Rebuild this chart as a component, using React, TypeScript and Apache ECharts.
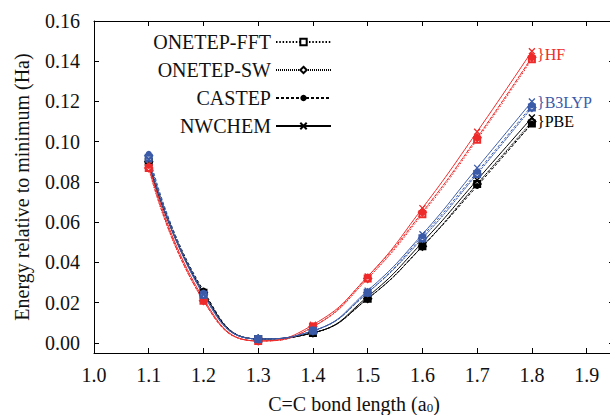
import React, { useEffect, useRef } from 'react';
import * as echarts from 'echarts';

const bondLengths = [1.1, 1.2, 1.3, 1.4, 1.5, 1.6, 1.7, 1.8];

// HF
const hfFFT = [0.087, 0.021, 0.001, 0.008, 0.032, 0.064, 0.101, 0.141];
const hfSW = [0.087, 0.021, 0.001, 0.008, 0.032, 0.065, 0.102, 0.142];
const hfCASTEP = [0.088, 0.021, 0.001, 0.008, 0.033, 0.065, 0.102, 0.142];
const hfNWCHEM = [0.089, 0.022, 0.001, 0.009, 0.033, 0.067, 0.105, 0.145];
// B3LYP
const b3FFT = [0.092, 0.024, 0.002, 0.006, 0.025, 0.052, 0.084, 0.117];
const b3SW = [0.093, 0.024, 0.002, 0.006, 0.025, 0.052, 0.084, 0.117];
const b3CASTEP = [0.094, 0.025, 0.002, 0.006, 0.025, 0.053, 0.085, 0.118];
const b3NWCHEM = [0.091, 0.024, 0.002, 0.006, 0.026, 0.054, 0.087, 0.120];
// PBE
const pbeFFT = [0.090, 0.025, 0.002, 0.005, 0.022, 0.048, 0.079, 0.109];
const pbeSW = [0.090, 0.025, 0.002, 0.005, 0.022, 0.048, 0.079, 0.110];
const pbeCASTEP = [0.091, 0.026, 0.002, 0.005, 0.022, 0.048, 0.078, 0.109];
const pbeNWCHEM = [0.089, 0.025, 0.002, 0.005, 0.023, 0.050, 0.081, 0.112];

const codes = ['ONETEP-FFT', 'ONETEP-SW', 'CASTEP', 'NWCHEM'];
const methodLabels = ['HF', 'B3LYP', 'PBE'];
const xTicks = [1.0, 1.1, 1.2, 1.3, 1.4, 1.5, 1.6, 1.7, 1.8, 1.9];
const yTicks = [0.0, 0.02, 0.04, 0.06, 0.08, 0.1, 0.12, 0.14, 0.16];

const FONT = 'Liberation Serif';
const TEXT = '#111111';
const RED = '#ee2b2b';
const BLUE = '#3b5ba8';
const BLACK = '#000000';

const codeStyles: Record<string, any> = {
  'ONETEP-FFT': { symbol: 'emptyRect', symbolSize: 6, dash: [1.5, 1.8], borderWidth: 1 },
  'ONETEP-SW': { symbol: 'emptyDiamond', symbolSize: 7, dash: [1, 1], borderWidth: 1.2 },
  CASTEP: { symbol: 'circle', symbolSize: 6, dash: [3, 2], borderWidth: 0 },
  NWCHEM: { symbol: 'path://M0,0L10,10M10,0L0,10', symbolSize: 6, dash: 'solid', borderWidth: 1.3 },
};

function makeSeries(name: string, code: string, color: string, values: number[] | null) {
  const st = codeStyles[code];
  return {
    name,
    type: 'line',
    smooth: 0.5,
    symbol: st.symbol,
    symbolSize: st.symbolSize,
    showAllSymbol: true,
    data: values ? bondLengths.map((x, i) => [x, values[i]]) : [],
    lineStyle: { color, width: 1, type: st.dash },
    itemStyle: { color, borderColor: color, borderWidth: st.borderWidth },
    emphasis: { disabled: true },
    z: 2,
  };
}

export default function App() {
  const ref = useRef<HTMLDivElement>(null);
  useEffect(() => {
    if (!ref.current) return;
    const chart = echarts.init(ref.current, null, { renderer: 'svg' });
    const groups: [string, string, number[][]][] = [
      ['PBE', BLACK, [pbeFFT, pbeSW, pbeCASTEP, pbeNWCHEM]],
      ['HF', RED, [hfFFT, hfSW, hfCASTEP, hfNWCHEM]],
      ['B3LYP', BLUE, [b3FFT, b3SW, b3CASTEP, b3NWCHEM]],
    ];
    const series: any[] = [];
    groups.forEach(([m, color, arrs]) => {
      arrs.forEach((vals, i) => series.push(makeSeries(m + ' ' + codes[i], codes[i], color, vals)));
    });
    codes.forEach((c) => series.push(makeSeries(c, c, BLACK, null)));

    const tickStyle = { show: true, inside: true, length: 5, lineStyle: { color: '#000' } };
    const lineAxis = { show: true, onZero: false, lineStyle: { color: '#000', width: 1 } };

    chart.setOption({
      animation: false,
      backgroundColor: '#fff',
      textStyle: { fontFamily: FONT },
      grid: { left: 94, right: -4, top: 21, bottom: 62, outerBoundsMode: 'none' },
      legend: {
        data: codes,
        orient: 'vertical',
        align: 'right',
        right: 278,
        top: 32,
        padding: 0,
        itemWidth: 55,
        itemHeight: 8,
        itemGap: 8,
        textStyle: { fontFamily: FONT, fontSize: 20, color: TEXT },
        selectedMode: false,
      },
      xAxis: [
        {
          type: 'value',
          position: 'bottom',
          min: 1.0,
          max: 1.95,
          axisLine: lineAxis,
          splitLine: { show: false },
          name: '{n|C=C bond length (a}{s|0}{n|)}',
          nameLocation: 'middle',
          nameGap: 40,
          nameTextStyle: {
            fontFamily: FONT,
            rich: {
              n: { fontFamily: FONT, fontSize: 20, color: TEXT },
              s: { fontFamily: FONT, fontSize: 13, color: TEXT, verticalAlign: 'bottom', padding: [8, 0, 0, 0] },
            },
          },
          axisTick: { ...tickStyle, customValues: xTicks },
          axisLabel: {
            margin: 12,
            customValues: xTicks,
            formatter: (v: number) => v.toFixed(1),
            fontFamily: FONT,
            fontSize: 20,
            color: TEXT,
          },
        },
        {
          type: 'value',
          position: 'top',
          min: 1.0,
          max: 1.95,
          axisLine: lineAxis,
          splitLine: { show: false },
          axisTick: { ...tickStyle, customValues: xTicks },
          axisLabel: { show: false },
        },
      ],
      yAxis: [
        {
          type: 'value',
          position: 'left',
          min: -0.005,
          max: 0.16,
          axisLine: lineAxis,
          splitLine: { show: false },
          name: 'Energy relative to minimum (Ha)',
          nameLocation: 'middle',
          nameGap: 62,
          nameTextStyle: { fontFamily: FONT, fontSize: 20, color: TEXT },
          axisTick: { ...tickStyle, customValues: yTicks },
          axisLabel: {
            margin: 14,
            customValues: yTicks,
            formatter: (v: number) => v.toFixed(2),
            fontFamily: FONT,
            fontSize: 20,
            color: TEXT,
          },
        },
        {
          type: 'value',
          position: 'right',
          min: -0.005,
          max: 0.16,
          axisLine: lineAxis,
          splitLine: { show: false },
          axisTick: { ...tickStyle, customValues: yTicks },
          axisLabel: { show: false },
        },
      ],
      graphic: [
        { type: 'text', x: 537, y: 54, style: { text: '}' + methodLabels[0], fill: RED, fontFamily: FONT, fontSize: 16, verticalAlign: 'middle' } },
        { type: 'text', x: 537, y: 102, style: { text: '}' + methodLabels[1], fill: BLUE, fontFamily: FONT, fontSize: 16, verticalAlign: 'middle' } },
        { type: 'text', x: 537, y: 121, style: { text: '}' + methodLabels[2], fill: BLACK, fontFamily: FONT, fontSize: 16, verticalAlign: 'middle' } },
      ],
      series,
    });
    return () => chart.dispose();
  }, []);
  return <div ref={ref} style={{ width: 610, height: 415, position: 'absolute', left: 0, top: 0 }} />;
}
